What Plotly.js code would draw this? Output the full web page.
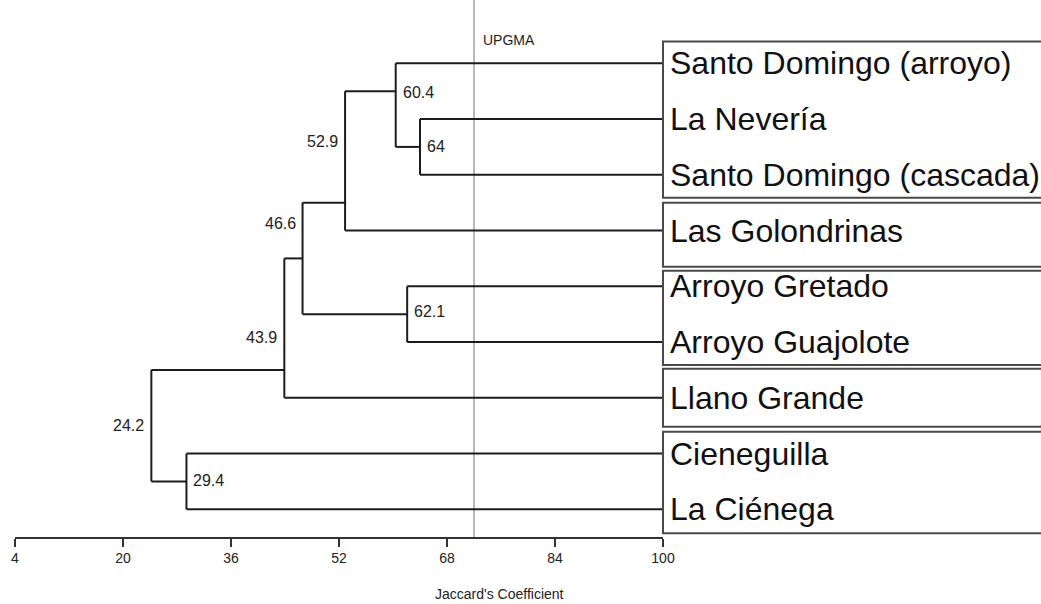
<!DOCTYPE html>
<html>
<head>
<meta charset="utf-8">
<script src="https://cdn.plot.ly/plotly-3.0.1.min.js"></script>
<style>html,body{margin:0;padding:0;background:#fff;}#chart{width:1041px;height:604px;}</style>
</head>
<body>
<div id="chart"></div>
<script>
// ---- Data (UPGMA, Jaccard's coefficient) ----
var leafNames = [
  "Santo Domingo (arroyo)",
  "La Nevería",
  "Santo Domingo (cascada)",
  "Las Golondrinas",
  "Arroyo Gretado",
  "Arroyo Guajolote",
  "Llano Grande",
  "Cieneguilla",
  "La Ciénega"
];
// similarity (x) of each internal node, in %
var nodeSim = [64, 60.4, 52.9, 62.1, 46.6, 43.9, 29.4, 24.2];
// vertical position (leaf-row units) where each node's stem is drawn
var nodeRow = [1.5, 0.5, 2.5, 4.5, 3.5, 5.5, 7.5, 6.5];
// children of each node: "L#" = leaf, "N#" = node
var nodeUpper = ["L1", "L0", "N1", "L4", "N2", "N4", "L7", "N5"];
var nodeLower = ["L2", "N0", "L3", "L5", "N3", "L6", "L8", "N6"];
// where each node's value label sits (row units) and on which side
var nodeLabelRow = [1.50, 0.53, 1.41, 4.46, 2.88, 4.92, 7.49, 6.50];
var nodeLabelSide = ["right", "right", "left", "right", "left", "left", "right", "left"];
// groups of leaves that share a framed label box (row units)
var groupTop = [-0.39, 2.50, 3.72, 5.48, 6.61];
var groupBottom = [2.41, 3.65, 5.41, 6.52, 8.43];
var cutoff = 72;               // UPGMA reference line
var tickVals = [4, 20, 36, 52, 68, 84, 100];
var axisTitle = "Jaccard's Coefficient";

// ---- Build tree segments ----
function posOf(ref) {
  var k = parseInt(ref.slice(1), 10);
  if (ref[0] === "L") return {x: 100, y: k};
  return {x: nodeSim[k], y: nodeRow[k]};
}
var segX = [], segY = [];
for (var i = 0; i < nodeSim.length; i++) {
  var a = posOf(nodeUpper[i]), b = posOf(nodeLower[i]);
  var s = nodeSim[i];
  segX.push(s, s, null); segY.push(a.y, b.y, null);
  segX.push(s, a.x, null); segY.push(a.y, a.y, null);
  segX.push(s, b.x, null); segY.push(b.y, b.y, null);
}

var FONT = "Liberation Sans, Arial, Helvetica, sans-serif";
var traces = [{
  type: "scatter", mode: "lines", x: segX, y: segY,
  line: {color: "#1c1c1c", width: 2}, hoverinfo: "skip", showlegend: false
}];

var ML = 15, W = 1041, H = 604, MB = 67;
var plotW = W - ML;
var dEnd = (100 - 4) * 6.75 / plotW;

var annotations = [];
leafNames.forEach(function (n, k) {
  annotations.push({
    x: 100, y: k, xref: "x", yref: "y", text: n, showarrow: false,
    xanchor: "left", yanchor: "middle", xshift: 5,
    font: {family: FONT, size: 32, color: "#111"}
  });
});
nodeSim.forEach(function (v, k) {
  var right = nodeLabelSide[k] === "right";
  annotations.push({
    x: v, y: nodeLabelRow[k], xref: "x", yref: "y", text: String(v), showarrow: false,
    xanchor: right ? "left" : "right", yanchor: "middle", xshift: right ? 5 : -5,
    font: {family: FONT, size: 16, color: "#222"}
  });
});
annotations.push({
  x: cutoff, y: -0.42, xref: "x", yref: "y", text: "UPGMA", showarrow: false,
  xanchor: "left", yanchor: "middle", xshift: 7,
  font: {family: FONT, size: 14, color: "#222"}
});
annotations.push({
  x: 75.75, y: -0.1061, xref: "x", yref: "paper", text: axisTitle, showarrow: false,
  xanchor: "center", yanchor: "middle",
  font: {family: FONT, size: 14, color: "#222"}
});

var shapes = [{
  type: "line", xref: "x", yref: "paper", x0: cutoff, x1: cutoff, y0: 0, y1: 1,
  line: {color: "#8a8a8a", width: 1.2}, layer: "below"
}];
groupTop.forEach(function (t, k) {
  shapes.push({
    type: "rect", xref: "paper", yref: "y", x0: dEnd, x1: 1.01, y0: t, y1: groupBottom[k],
    line: {color: "#4a4a4a", width: 2}, fillcolor: "rgba(0,0,0,0)"
  });
});

var layout = {
  width: W, height: H,
  margin: {l: ML, r: 0, t: 0, b: MB, pad: 0},
  paper_bgcolor: "#fff", plot_bgcolor: "#fff",
  showlegend: false,
  xaxis: {
    domain: [0, dEnd], range: [4, 100], autorange: false,
    tickmode: "array", tickvals: tickVals, ticktext: tickVals.map(String),
    ticks: "outside", ticklen: 8, tickwidth: 1.5, tickcolor: "#333",
    showline: true, linecolor: "#333", linewidth: 1.5,
    showgrid: false, zeroline: false,
    tickfont: {family: FONT, size: 14, color: "#222"}
  },
  yaxis: {
    range: [8.497, -1.135], autorange: false,
    visible: false, showgrid: false, zeroline: false
  },
  annotations: annotations,
  shapes: shapes
};

Plotly.newPlot("chart", traces, layout, {displayModeBar: false, staticPlot: true});
</script>
</body>
</html>
